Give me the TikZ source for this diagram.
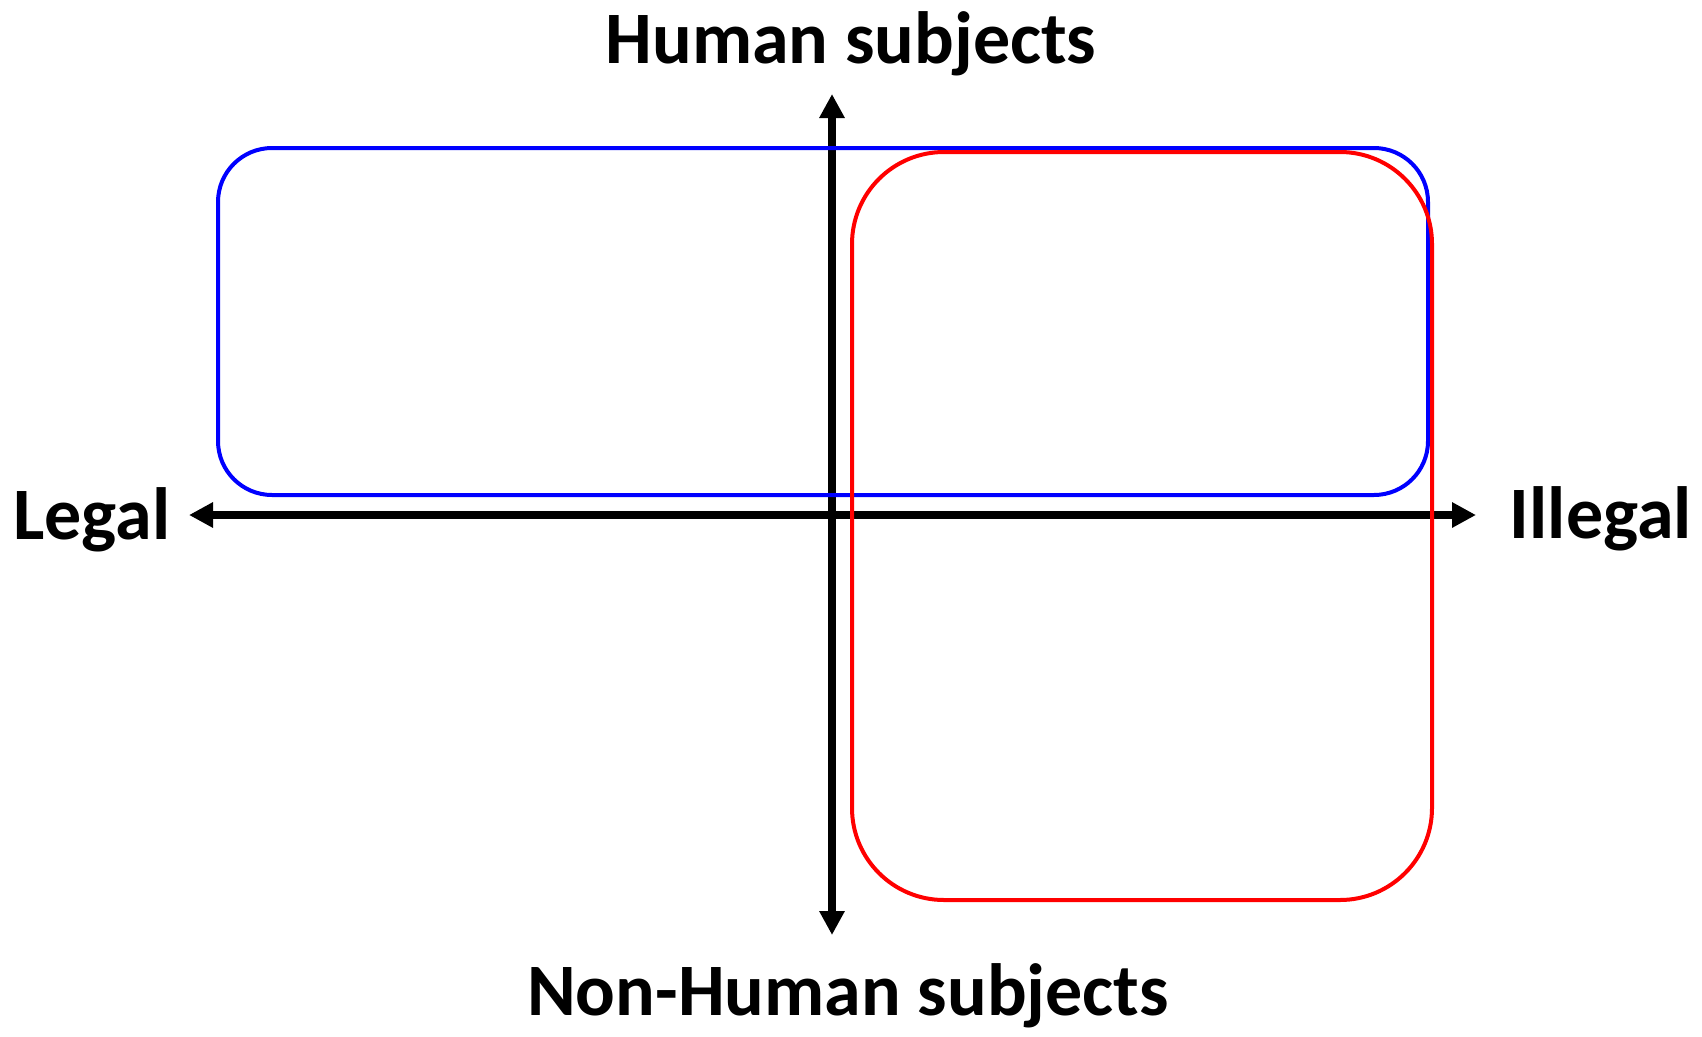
\documentclass[tikz,border=0pt]{standalone}
\usepackage{fontspec}
\setmainfont{Carlito}
\usetikzlibrary{arrows.meta}
\begin{document}
\begin{tikzpicture}[x=1pt,y=-1pt,
  axis/.style={line width=8pt,draw=black,{Triangle[length=24pt,width=24pt]}-{Triangle[length=24pt,width=24pt]}},
  lab/.style={inner sep=0pt,font=\fontsize{74}{80}\selectfont\bfseries},
  bluebox/.style={draw=blue,line width=4pt,rounded corners=54pt},
  redbox/.style={draw=red,line width=4pt,rounded corners=92pt}]
\useasboundingbox (0,0) rectangle (1702,1036);
\coordinate (top) at (832,94);
\coordinate (bot) at (832,935);
\coordinate (lft) at (189,515);
\coordinate (rgt) at (1476,515);
\draw[axis] (bot) -- (top);
\draw[axis] (lft) -- (rgt);
\draw[bluebox] (218,148) rectangle (1428,495);
\draw[redbox] (852,152) rectangle (1432,900);
\node[lab,anchor=base] (human) at (851,63) {Human subjects};
\node[lab,anchor=base] (nonhuman) at (848,1015) {Non-Human subjects};
\node[lab,anchor=base west] (legal) at (13,539) {Legal};
\node[lab,anchor=base east] (illegal) at (1692,538) {Illegal};
\end{tikzpicture}
\end{document}
